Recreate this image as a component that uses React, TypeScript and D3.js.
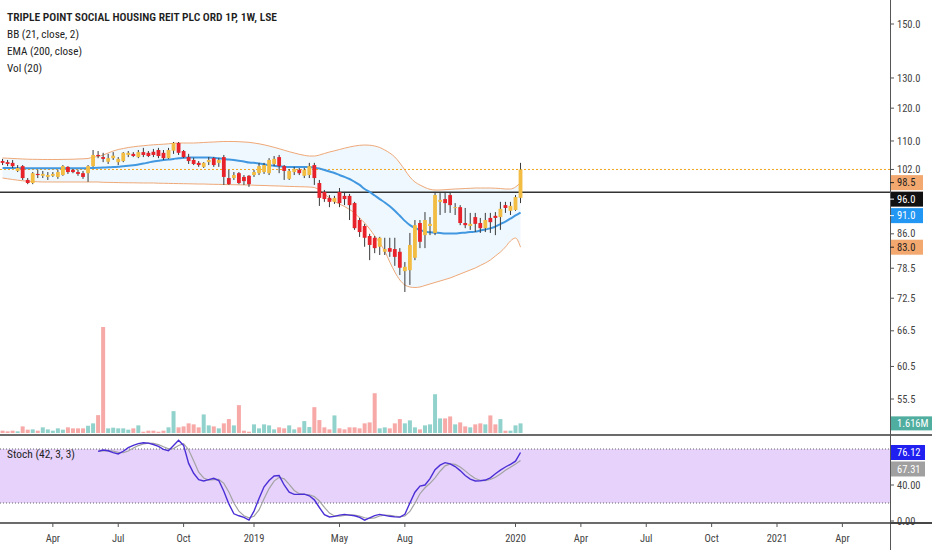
import React from 'react';
import * as d3 from 'd3';

// chart size and pane layout
const W = 932;
const H = 550;
const AXIS_X = 890;

const FONT = "'Liberation Sans Narrow', 'Arial Narrow', 'Roboto Condensed', 'Liberation Sans', sans-serif";

const legendLines = [
  'TRIPLE POINT SOCIAL HOUSING REIT PLC ORD 1P, 1W, LSE',
  'BB (21, close, 2)',
  'EMA (200, close)',
  'Vol (20)',
];
const legendWidths = [270, 72, 75, 35];

// weekly bars, first one starts on this monday
const firstBar = new Date(2018, 0, 22);

const opens = [
  104.3, 104.0, 103.8, 101.6, 102.9, 99.2, 98.4, 100.8, 100.3, 100.0,
  100.3, 100.0, 100.5, 102.7, 101.9, 101.3, 101.0, 101.0, 102.9, 106.0,
  105.4, 104.1, 105.1, 104.0, 104.3, 106.0, 106.3, 105.4, 106.8, 106.6,
  106.9, 107.4, 106.6, 105.1, 107.2, 109.4, 107.1, 105.4, 104.6, 103.8,
  102.7, 104.0, 105.1, 103.8, 105.4, 99.7, 99.7, 101.0, 100.0, 100.3,
  100.5, 101.0, 101.3, 101.0, 103.5, 105.4, 102.9, 99.5, 101.3, 101.9,
  100.3, 100.5, 103.2, 98.4, 96.1, 94.6, 93.6, 96.1, 95.1, 95.1,
  93.3, 89.2, 87.8, 85.5, 85.1, 83.1, 82.0, 82.8, 82.6, 82.0,
  77.9, 78.1, 80.7, 88.5, 85.7, 87.8, 86.2, 93.6, 94.3, 95.3,
  92.1, 92.3, 88.5, 87.8, 89.9, 88.5, 87.3, 89.7, 90.2, 89.9,
  92.8, 91.4, 91.6, 94.6,
];
const highs = [
  104.9, 104.6, 104.6, 103.2, 103.2, 99.7, 101.3, 101.9, 101.6, 101.3,
  101.3, 101.9, 103.2, 102.9, 102.1, 101.9, 101.6, 103.2, 107.4, 107.1,
  106.6, 106.3, 106.8, 105.4, 106.8, 107.1, 106.8, 107.4, 108.0, 107.1,
  107.7, 108.0, 107.4, 108.0, 109.7, 109.7, 107.4, 106.3, 105.2, 104.3,
  104.0, 105.4, 105.4, 105.1, 106.0, 101.9, 101.3, 101.3, 100.5, 100.5,
  101.9, 103.8, 103.8, 105.1, 105.7, 106.0, 103.2, 102.1, 102.7, 102.4,
  102.4, 103.8, 103.8, 99.2, 96.6, 95.3, 95.1, 97.1, 96.1, 95.6,
  93.6, 89.7, 88.3, 86.0, 85.5, 85.3, 85.1, 85.1, 85.1, 82.8,
  79.8, 86.2, 89.2, 89.2, 91.1, 89.9, 96.1, 95.8, 96.1, 96.1,
  93.3, 92.8, 92.1, 90.9, 90.9, 89.7, 90.9, 90.9, 91.1, 93.6,
  93.6, 93.6, 95.3, 103.8,
];
const lows = [
  103.2, 102.9, 102.4, 101.3, 99.2, 98.1, 98.1, 99.7, 99.7, 99.2,
  100.0, 99.5, 100.3, 100.8, 101.0, 100.3, 99.5, 98.7, 102.7, 105.1,
  104.0, 103.5, 104.6, 103.2, 104.0, 105.4, 105.4, 105.1, 105.4, 105.4,
  105.4, 105.1, 104.6, 104.9, 106.3, 106.0, 105.1, 103.5, 103.2, 102.7,
  102.4, 103.2, 102.7, 102.7, 97.9, 97.9, 99.2, 98.1, 97.9, 97.4,
  100.0, 100.5, 100.8, 100.5, 102.9, 101.0, 99.2, 99.2, 100.5, 100.5,
  99.7, 99.7, 97.9, 92.6, 93.6, 92.3, 93.1, 92.3, 92.8, 89.2,
  86.9, 85.3, 83.1, 80.2, 81.7, 81.3, 81.3, 80.9, 79.0, 77.1,
  73.7, 75.1, 80.2, 82.8, 82.8, 85.7, 85.7, 90.4, 90.9, 90.9,
  90.4, 88.0, 87.3, 86.9, 86.4, 86.2, 86.4, 86.2, 85.7, 86.9,
  90.9, 90.4, 91.4, 93.3,
];
const closes = [
  103.8, 103.5, 102.9, 102.4, 99.7, 98.4, 101.0, 100.5, 100.8, 100.5,
  100.8, 101.3, 102.9, 101.3, 101.3, 100.8, 100.0, 102.9, 106.0, 105.7,
  104.9, 105.1, 105.8, 104.9, 106.6, 106.6, 105.7, 106.8, 106.0, 105.7,
  106.0, 105.7, 105.1, 107.4, 109.4, 106.6, 105.4, 104.3, 103.5, 103.2,
  103.8, 104.6, 103.2, 104.6, 100.0, 98.1, 100.5, 98.4, 98.9, 98.1,
  101.3, 102.9, 103.2, 104.6, 104.9, 102.9, 101.6, 101.6, 102.1, 101.0,
  101.9, 102.9, 99.7, 94.6, 94.3, 93.6, 94.6, 93.3, 94.3, 92.8,
  87.3, 86.4, 85.1, 83.5, 82.8, 85.1, 82.6, 82.0, 80.9, 78.6,
  78.8, 83.5, 88.0, 84.2, 89.2, 88.3, 95.3, 94.1, 93.3, 92.8,
  92.3, 88.5, 88.0, 88.3, 88.3, 87.3, 89.2, 88.7, 89.7, 91.9,
  92.1, 92.6, 94.8, 102.0,
];
// volume in millions
const volumes = [
  0.39, 0.28, 0.39, 0.28, 1.11, 0.56, 0.61, 0.39, 0.95, 0.61,
  0.39, 0.78, 0.56, 0.95, 0.78, 0.78, 0.78, 1.22, 1.62, 3.0,
  17.8, 0.78, 0.89, 0.78, 0.78, 0.56, 0.78, 1.28, 0.22, 0.39,
  0.39, 0.22, 0.39, 0.95, 3.67, 0.95, 1.11, 1.62, 1.45, 0.95,
  3.12, 1.28, 1.11, 0.78, 1.62, 2.34, 1.28, 4.68, 0.39, 0.22,
  1.45, 0.78, 1.45, 1.28, 0.61, 0.95, 0.78, 1.28, 0.61, 0.95,
  2.0, 1.0, 4.34, 2.17, 0.95, 0.61, 2.95, 0.78, 0.61, 0.95,
  0.95, 0.78, 1.62, 1.78, 6.68, 0.78, 0.95, 0.78, 1.62, 2.34,
  1.62, 2.12, 0.95, 0.61, 1.28, 1.45, 6.51, 2.45, 2.45, 2.78,
  1.45, 1.78, 1.11, 0.95, 1.45, 1.62, 1.45, 2.95, 1.45, 2.34,
  0.39, 0.39, 1.28, 1.616,
];
const ema200 = [
  102.4, 102.4, 102.4, 102.35, 102.35, 102.3, 102.3, 102.3, 102.3, 102.3,
  102.3, 102.3, 102.3, 102.3, 102.3, 102.3, 102.3, 102.35, 102.4, 102.45,
  102.5, 102.6, 102.65, 102.75, 102.9, 103.0, 103.15, 103.35, 103.6, 103.9,
  104.2, 104.4, 104.6, 104.7, 104.9, 105.1, 105.2, 105.3, 105.3, 105.3,
  105.3, 105.3, 105.2, 105.1, 104.9, 104.7, 104.6, 104.4, 104.2, 103.9,
  103.8, 103.6, 103.4, 103.15, 103.0, 102.85, 102.75, 102.7, 102.7, 102.7,
  102.65, 102.65, 102.5, 102.25, 101.85, 101.45, 101.05, 100.5, 100.0, 99.45,
  98.7, 97.9, 96.85, 96.1, 95.2, 94.3, 93.45, 92.5, 91.4, 90.2,
  89.0, 88.0, 87.35, 86.9, 86.5, 86.35, 86.25, 86.2, 86.1, 86.1,
  86.1, 86.2, 86.25, 86.4, 86.5, 86.75, 87.0, 87.25, 87.65, 88.25,
  88.85, 89.55, 90.3, 91.0,
];
const bbUpper = [
  105.15, 105.09, 105.01, 104.95, 104.87, 104.81, 104.78, 104.76, 104.73, 104.73,
  104.73, 104.73, 104.76, 104.78, 104.81, 104.87, 104.92, 105.01, 105.42, 105.56,
  105.98, 106.55, 107.11, 107.54, 107.83, 108.11, 108.31, 108.49, 108.63, 108.77,
  108.89, 108.98, 109.06, 109.18, 109.35, 109.41, 109.41, 109.41, 109.41, 109.47,
  109.56, 109.64, 109.7, 109.79, 109.85, 109.85, 109.85, 109.79, 109.7, 109.61,
  109.41, 109.18, 108.89, 108.54, 108.17, 107.77, 107.34, 106.92, 106.55, 106.18,
  105.9, 105.7, 105.7, 105.98, 106.41, 106.83, 107.17, 107.54, 107.91, 108.26,
  108.54, 108.74, 108.83, 108.77, 108.54, 108.11, 107.4, 106.55, 105.42, 103.76,
  101.85, 99.98, 98.67, 97.88, 97.23, 96.77, 96.59, 96.59, 96.67, 96.77,
  96.85, 96.9, 96.98, 97.03, 97.1, 97.1, 97.1, 97.1, 97.05, 96.98,
  96.85, 96.85, 97.36, 98.5,
];
const bbLower = [
  99.72, 99.51, 99.32, 99.14, 98.98, 98.88, 98.8, 98.72, 98.67, 98.67,
  98.67, 98.67, 98.67, 98.67, 98.67, 98.67, 98.67, 98.67, 98.67, 98.67,
  98.59, 98.56, 98.54, 98.51, 98.48, 98.46, 98.46, 98.43, 98.41, 98.41,
  98.41, 98.35, 98.33, 98.3, 98.27, 98.25, 98.22, 98.2, 98.17, 98.14,
  98.14, 98.09, 98.06, 98.04, 98.01, 97.98, 97.96, 97.93, 97.91, 97.88,
  97.83, 97.78, 97.75, 97.7, 97.65, 97.62, 97.57, 97.52, 97.49, 97.44,
  97.41, 97.36, 97.23, 96.59, 95.57, 94.56, 93.69, 93.07, 92.46, 91.72,
  90.88, 89.69, 88.5, 87.1, 85.5, 83.93, 82.17, 79.81, 77.72, 76.09,
  75.09, 74.69, 74.59, 74.69, 74.99, 75.29, 75.59, 75.89, 76.19, 76.5,
  76.9, 77.31, 77.72, 78.13, 78.55, 79.08, 79.6, 80.23, 81.09, 81.95,
  83.05, 84.38, 85.05, 83.0,
];

// stochastic starts later (needs 42 bars of history)
const stochStart = 19;
const stochK = [
  77.4, 78.9, 78, 76, 74.5, 77.5, 81.5, 84, 86, 87,
  86.5, 85, 83, 79.5, 78, 84, 89.7, 84, 64, 53,
  46, 44.5, 46, 47.5, 45, 33, 19, 8, 5.8, 4,
  1, 11, 25, 38, 45, 50, 50.5, 40, 32, 29.6,
  29.6, 29.8, 28, 23.5, 15, 7, 4.5, 5.2, 6.5, 7.3,
  6.5, 5.8, 4, 1, 3.5, 6, 7.3, 6.3, 5.2, 4.6,
  4.3, 7.5, 20, 32, 38.8, 40, 47, 57, 62, 64.8,
  63.5, 60.5, 56, 50.6, 46.5, 44.5, 44.8, 45.5, 48, 52.5,
  56.5, 60, 63, 66.5, 76.12,
];
const stochD = [
  77.5, 78, 78.2, 77.6, 76.2, 76, 77.8, 81, 83.8, 85.7,
  86.5, 86.2, 84.8, 82.5, 80.2, 80.5, 83.9, 85.9, 79.2, 67,
  54.3, 47.8, 45.5, 46, 46.2, 41.8, 32.3, 20, 10.9, 5.9,
  3.6, 5.3, 12.3, 24.7, 36, 44.3, 48.5, 46.8, 40.8, 33.9,
  30.4, 29.7, 29.1, 27.1, 22.2, 15.2, 8.8, 5.6, 5.4, 6.3,
  6.8, 6.5, 5.4, 3.6, 2.8, 3.5, 5.6, 6.5, 6.3, 5.4,
  4.7, 5.5, 10.6, 19.8, 30.3, 36.9, 41.9, 48, 55.3, 61.3,
  63.4, 62.9, 60, 55.7, 51, 47.2, 45.3, 44.9, 46.1, 48.7,
  52.3, 56.3, 59.8, 63.2, 67.31,
];
const stochBands = [80, 20];

const levelLine = 96.0;
const priceTicks = [150, 130, 120, 110, 102, 86, 78.5, 72.5, 66.5, 60.5, 55.5];
const stochTicks = [40, 0];
const timeTickDates = [
  new Date(2018, 3, 2), new Date(2018, 6, 2), new Date(2018, 9, 1), new Date(2019, 0, 7),
  new Date(2019, 4, 6), new Date(2019, 7, 5), new Date(2020, 0, 6), new Date(2020, 3, 6),
  new Date(2020, 6, 6), new Date(2020, 9, 5), new Date(2021, 0, 4), new Date(2021, 3, 5),
];
const timeTickLabels = ['Apr', 'Jul', 'Oct', '2019', 'May', 'Aug', '2020', 'Apr', 'Jul', 'Oct', '2021', 'Apr'];

const UP = '#f2bd42';
const DOWN = '#e8222a';
const WICK = '#383838';

type Bar = {
  date: Date; o: number; h: number; l: number; c: number; v: number;
  ema: number; up: number; lo: number;
};

// push overlapping axis labels downwards like the trading app does
function stackLabels<T extends { y: number }>(items: T[], gap: number): (T & { ly: number })[] {
  const sorted = [...items].sort((a, b) => a.y - b.y);
  let prev = -Infinity;
  return sorted.map(it => {
    const ly = Math.max(it.y, prev + gap);
    prev = ly;
    return { ...it, ly };
  });
}

const App: React.FC = () => {
  const bars: Bar[] = opens.map((o, i) => ({
    date: d3.timeDay.offset(firstBar, 7 * i),
    o, h: highs[i], l: lows[i], c: closes[i], v: volumes[i],
    ema: ema200[i], up: bbUpper[i], lo: bbLower[i],
  }));
  const last = bars.length - 1;

  const x = d3.scaleTime()
    .domain([new Date(2019, 0, 7), new Date(2021, 0, 4)])
    .range([254, 777]);
  const y = d3.scaleLog().domain([55.5, 150]).range([399, 24]);
  const yVol = d3.scaleLinear().domain([0, d3.max(volumes) as number]).range([433, 327]);
  const ySt = d3.scaleLinear().domain([0, 100]).range([521, 431]);

  const band = d3.area<Bar>()
    .x(d => x(d.date)).y0(d => y(d.lo)).y1(d => y(d.up))
    .curve(d3.curveMonotoneX);
  const upperLine = d3.line<Bar>().x(d => x(d.date)).y(d => y(d.up)).curve(d3.curveMonotoneX);
  const lowerLine = d3.line<Bar>().x(d => x(d.date)).y(d => y(d.lo)).curve(d3.curveMonotoneX);
  const emaLine = d3.line<Bar>().x(d => x(d.date)).y(d => y(d.ema)).curve(d3.curveMonotoneX);

  const stLine = d3.line<number>()
    .x((_, j) => x(bars[stochStart + j].date))
    .y(v => ySt(v));

  const bodyW = 3.8;
  const fmt1 = d3.format('.1f');
  const fmt2 = d3.format('.2f');

  const priceLabels = stackLabels([
    { y: y(bbUpper[last]), text: fmt1(bbUpper[last]), bg: '#f2a86e', fg: '#222' },
    { y: y(levelLine), text: fmt1(levelLine), bg: '#111111', fg: '#fff' },
    { y: y(ema200[last]), text: fmt1(ema200[last]), bg: '#2196f3', fg: '#fff' },
    { y: y(bbLower[last]), text: fmt1(bbLower[last]), bg: '#f2a86e', fg: '#222' },
  ], 16.5);
  const stochLabels = stackLabels([
    { y: ySt(stochK[stochK.length - 1]), text: fmt2(stochK[stochK.length - 1]), bg: '#2020f0', fg: '#fff' },
    { y: ySt(stochD[stochD.length - 1]), text: fmt2(stochD[stochD.length - 1]), bg: '#a0a0a0', fg: '#fff' },
  ], 16.5);

  const lastY = y(closes[last]);

  return (
    <div style={{ position: 'absolute', left: 0, top: 0, width: W, height: H, background: '#fff' }}>
      <svg width={W} height={H} style={{ display: 'block', fontFamily: FONT }}>
        <rect x={0} y={0} width={W} height={H} fill="#fff" />

        {/* bollinger band */}
        <path d={band(bars) || ''} fill="rgba(33,150,243,0.07)" />
        <path d={upperLine(bars) || ''} fill="none" stroke="#efa877" strokeWidth={1} />
        <path d={lowerLine(bars) || ''} fill="none" stroke="#efa877" strokeWidth={1} />

        {/* volume overlay */}
        {bars.map((d, i) => (
          <rect key={'v' + i} x={x(d.date) - 2} width={4} y={yVol(d.v)} height={yVol(0) - yVol(d.v)}
            fill={d.c >= d.o ? 'rgba(38,166,154,0.5)' : 'rgba(239,83,80,0.5)'} />
        ))}

        {/* last price + horizontal level */}
        <line x1={0} x2={AXIS_X} y1={lastY} y2={lastY} stroke="#f2a21c" strokeWidth={1} strokeDasharray="2,2" />
        <line x1={0} x2={AXIS_X} y1={y(levelLine)} y2={y(levelLine)} stroke="#333" strokeWidth={1.5} />

        {/* ema */}
        <path d={emaLine(bars) || ''} fill="none" stroke="#4298e0" strokeWidth={2} />

        {/* candles */}
        {bars.map((d, i) => {
          const cx = x(d.date);
          const top = y(Math.max(d.o, d.c));
          const bot = y(Math.min(d.o, d.c));
          return (
            <g key={'c' + i}>
              <line x1={cx} x2={cx} y1={y(d.h)} y2={y(d.l)} stroke={WICK} strokeWidth={1} />
              <rect x={cx - bodyW / 2} width={bodyW} y={top} height={Math.max(1, bot - top)}
                fill={d.c >= d.o ? UP : DOWN} />
            </g>
          );
        })}

        {/* legend */}
        {legendLines.map((t, i) => (
          <text key={t} x={7} y={20.7 + i * 17.2} fontSize={11.5} fill="#1e1e1e"
            fontWeight={i === 0 ? 600 : 400}
            textLength={legendWidths[i]} lengthAdjust="spacingAndGlyphs">{t}</text>
        ))}

        {/* stochastic pane */}
        <rect x={0} width={AXIS_X} y={ySt(stochBands[0])} height={ySt(stochBands[1]) - ySt(stochBands[0])} fill="#e6d2fa" />
        {stochBands.map(b => (
          <line key={'sb' + b} x1={0} x2={AXIS_X} y1={ySt(b)} y2={ySt(b)} stroke="#666" strokeWidth={1} strokeDasharray="1,2" />
        ))}
        <path d={stLine(stochD) || ''} fill="none" stroke="#a3a3a3" strokeWidth={1.2} />
        <path d={stLine(stochK) || ''} fill="none" stroke="#4b2fd6" strokeWidth={1.4} />
        <text x={7} y={457.5} fontSize={11.5} fill="#1e1e1e" textLength={68} lengthAdjust="spacingAndGlyphs">Stoch (42, 3, 3)</text>

        {/* separators and axes */}
        <line x1={0} x2={W} y1={435} y2={435} stroke="#3a3a3a" strokeWidth={1.5} />
        <line x1={0} x2={W} y1={523} y2={523} stroke="#3a3a3a" strokeWidth={1.5} />
        <line x1={AXIS_X + 0.5} x2={AXIS_X + 0.5} y1={0} y2={H} stroke="#555" strokeWidth={1} />

        {priceTicks.map(p => (
          <g key={'pt' + p}>
            <line x1={AXIS_X} x2={AXIS_X + 4} y1={y(p)} y2={y(p)} stroke="#555" />
            <text x={897} y={y(p)} dy="0.35em" fontSize={10.5} fill="#444">{fmt1(p)}</text>
          </g>
        ))}
        {priceLabels.map(l => (
          <g key={'pl' + l.text}>
            <rect x={AXIS_X + 1} y={l.ly - 7.5} width={32} height={15} fill={l.bg} />
            <line x1={AXIS_X} x2={AXIS_X + 4} y1={l.ly} y2={l.ly} stroke={l.fg} />
            <text x={897} y={l.ly} dy="0.35em" fontSize={10.5} fill={l.fg}>{l.text}</text>
          </g>
        ))}

        {/* volume label */}
        <rect x={AXIS_X + 1} y={yVol(volumes[last]) - 7} width={W - AXIS_X} height={14} fill="#4fae9f" />
        <text x={897} y={yVol(volumes[last])} dy="0.35em" fontSize={10.5} fill="#fff">
          {d3.format('.3f')(volumes[last]) + 'M'}
        </text>

        {stochTicks.map(s => (
          <g key={'st' + s}>
            <line x1={AXIS_X} x2={AXIS_X + 4} y1={ySt(s)} y2={ySt(s)} stroke="#555" />
            <text x={897} y={ySt(s)} dy="0.35em" fontSize={10.5} fill="#444">{fmt2(s)}</text>
          </g>
        ))}
        {stochLabels.map(l => (
          <g key={'sl' + l.text}>
            <rect x={AXIS_X + 1} y={l.ly - 7.5} width={34} height={15} fill={l.bg} />
            <text x={897} y={l.ly} dy="0.35em" fontSize={10.5} fill={l.fg}>{l.text}</text>
          </g>
        ))}
        <line x1={AXIS_X} x2={W} y1={523} y2={523} stroke="#3a3a3a" strokeWidth={1.5} />

        {/* time axis */}
        {timeTickDates.map((d, i) => (
          <g key={'tt' + i}>
            <line x1={x(d)} x2={x(d)} y1={523} y2={527} stroke="#555" />
            <text x={x(d)} y={542} textAnchor="middle" fontSize={10.5} fill="#444">{timeTickLabels[i]}</text>
          </g>
        ))}
      </svg>
    </div>
  );
};

export default App;
